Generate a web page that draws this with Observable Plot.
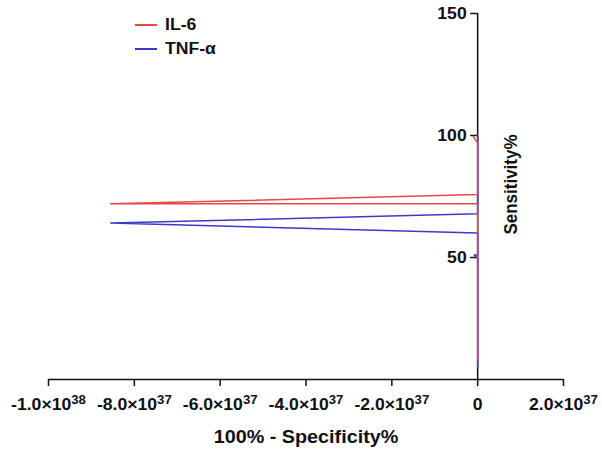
<!DOCTYPE html>
<html>
<head>
<meta charset="utf-8">
<script src="https://cdn.jsdelivr.net/npm/d3@7"></script>
<script src="https://cdn.jsdelivr.net/npm/@observablehq/plot@0.6"></script>
<style>
  body { margin: 0; background: #fff; }
  #wrap { position: relative; width: 602px; height: 466px; font-family: "Liberation Sans", Arial, sans-serif; }
  #legend { position: absolute; left: 135px; top: 13px; font-size: 16px; font-weight: bold; color: #111; }
  .item { display: flex; align-items: center; height: 24px; }
  .swatch { width: 22px; height: 1.5px; margin-right: 8px; }
  .lbl { display: inline-block; transform: scaleX(1.1); transform-origin: left center; }
</style>
</head>
<body>
<div id="wrap"><div id="legend"></div></div>
<script>
// Series names and colours
const seriesNames = ["IL-6", "TNF-α"];
const seriesColors = ["#e8464a", "#3b3bc8"];

// ROC-like curves (x: 100% - Specificity%, y: Sensitivity%)
const il6X = [0, 0, -8.55e37, 0, 0, -1.0e36];
const il6Y = [7.8, 72.0, 72.0, 75.8, 97.0, 99.5];
const tnfX = [0, 0, -8e35, 0, 0, -8.55e37, 0, 0];
const tnfY = [4.9, 49.5, 51.0, 51.0, 60.0, 64.1, 67.9, 100];

// Axes
const xTicks = [-1e38, -8e37, -6e37, -4e37, -2e37, 0, 2e37];
const yTicks = [50, 100, 150];
const xDomain = [-1e38, 2e37];
const yDomain = [0, 150];
const xLabel = "100% - Specificity%";
const yLabel = "Sensitivity%";

function fmt(d) {
  if (d === 0) return "0";
  const e = Math.floor(Math.log10(Math.abs(d)));
  const m = d / Math.pow(10, e);
  return `${m.toFixed(1)}×10^${e}`;
}

const il6 = il6X.map((x, i) => ({x, y: il6Y[i]}));
const tnf = tnfX.map((x, i) => ({x, y: tnfY[i]}));

const plot = Plot.plot({
  width: 602,
  height: 466,
  marginLeft: 48,
  marginRight: 39,
  marginTop: 13,
  marginBottom: 87,
  style: {fontFamily: "Liberation Sans, Arial, sans-serif", fontSize: "16px", fontWeight: "bold", color: "#111", background: "#fff"},
  x: {domain: xDomain},
  y: {domain: yDomain, axis: null},
  marks: [
    // x axis
    Plot.ruleY([0], {stroke: "#111", strokeWidth: 1.5}),
    Plot.axisX({ticks: xTicks, tickFormat: fmt, tickSize: 7, tickPadding: 12, label: null, stroke: "#111", strokeWidth: 1.5, fontSize: 16}),
    // y axis drawn at x = 0
    Plot.ruleX([0], {y1: 0, y2: 150, stroke: "#111", strokeWidth: 1.5}),
    Plot.ruleY(yTicks, {y: d => d, x1: 0, x2: 0, insetLeft: -7, stroke: "#111", strokeWidth: 1.5}),
    Plot.text(yTicks, {y: d => d, x: 0, text: d => String(d), dx: -11, textAnchor: "end", fontSize: 16}),
    // curves
    Plot.line(tnf, {x: "x", y: "y", stroke: seriesColors[1], strokeWidth: 1.5}),
    Plot.line(il6, {x: "x", y: "y", stroke: seriesColors[0], strokeWidth: 1.5}),
    // axis titles
    Plot.text([xLabel], {frameAnchor: "bottom", dy: 63, fontSize: 18, text: d => d}),
    Plot.text([yLabel], {x: [0], frameAnchor: "middle", dx: 33, dy: -12, rotate: -90, fontSize: 17, text: d => d})
  ]
});

const ns = "http://www.w3.org/2000/svg";
// turn "a×10^b" tick labels into real superscripts
plot.querySelectorAll("text").forEach(t => {
  const s = t.textContent;
  if (!s.includes("^")) return;
  const [base, exp] = s.split("^");
  t.textContent = "";
  const a = document.createElementNS(ns, "tspan");
  a.textContent = base;
  const b = document.createElementNS(ns, "tspan");
  b.textContent = exp;
  b.setAttribute("dy", "-0.45em");
  b.setAttribute("font-size", "12");
  t.appendChild(a);
  t.appendChild(b);
});
// the reference's lettering is slightly wide: stretch horizontally
plot.querySelectorAll("text").forEach(t => {
  const tr = t.getAttribute("transform");
  if (tr == null) return;
  t.setAttribute("transform", tr + (tr.includes("rotate") ? " scale(1,1.1)" : " scale(1.1,1)"));
});

const wrap = document.getElementById("wrap");
wrap.insertBefore(plot, wrap.firstChild);

const legend = document.getElementById("legend");
seriesNames.forEach((name, i) => {
  const item = document.createElement("div");
  item.className = "item";
  const sw = document.createElement("div");
  sw.className = "swatch";
  sw.style.background = seriesColors[i];
  const t = document.createElement("span");
  t.className = "lbl";
  t.textContent = name;
  item.appendChild(sw);
  item.appendChild(t);
  legend.appendChild(item);
});
</script>
</body>
</html>
